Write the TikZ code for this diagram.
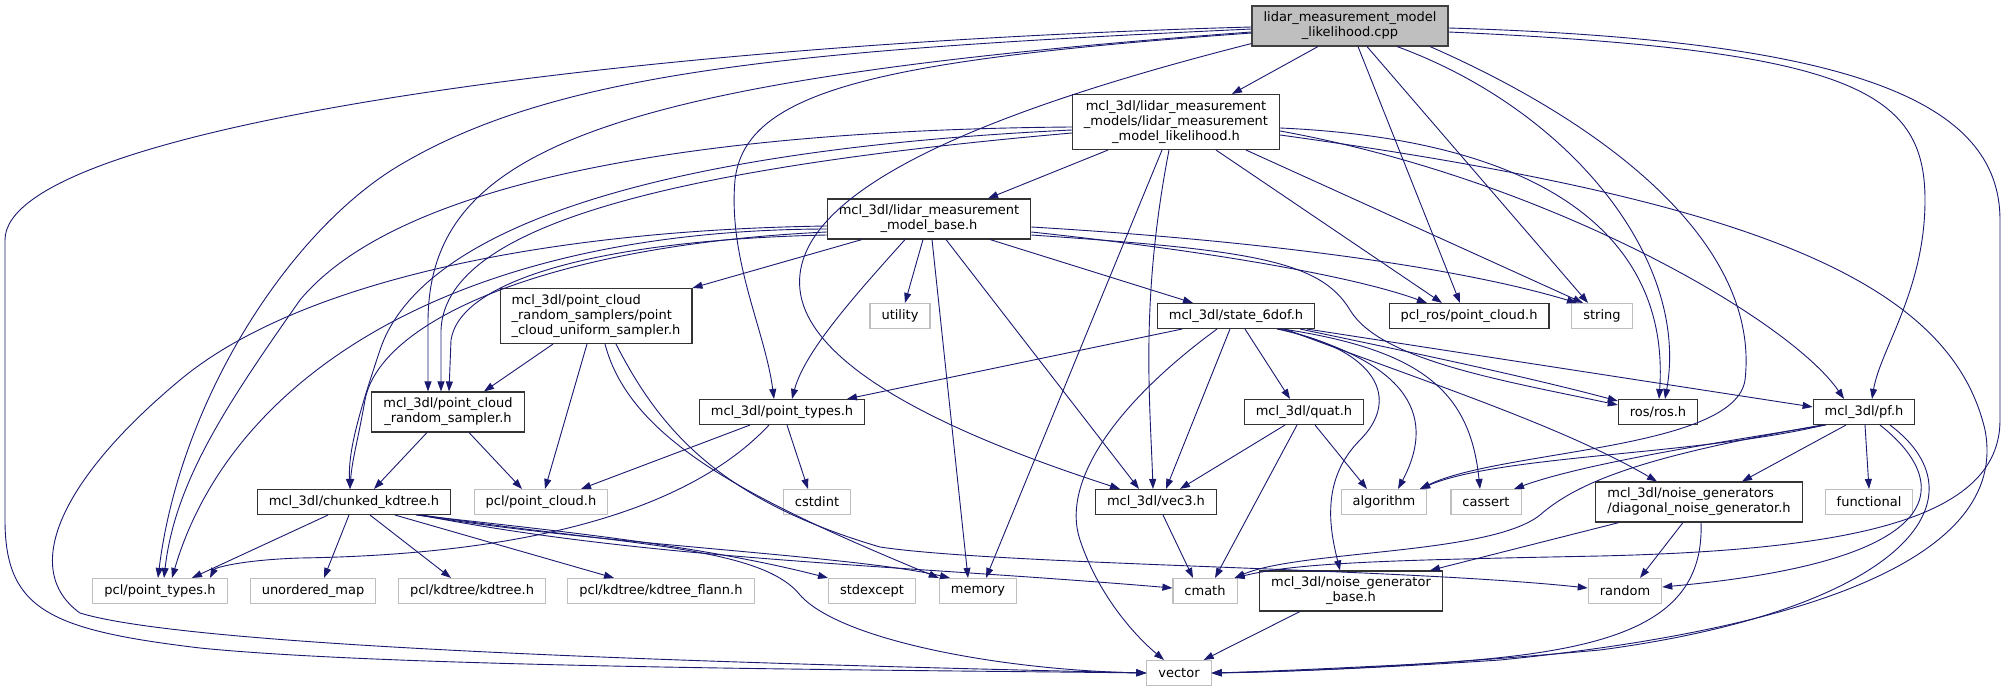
\documentclass[tikz,border=0pt]{standalone}
\usepackage{fontspec}
\setmainfont{DejaVu Sans}
\usetikzlibrary{arrows.meta}
\definecolor{edgeblue}{HTML}{191970}
\definecolor{rootgray}{HTML}{BFBFBF}
\tikzset{
	x=1pt, y=-1pt,
	file/.style={draw=black!80, fill=white, line width=1.1pt, inner xsep=11.5pt, inner ysep=0pt,
		minimum height=25pt, font=\fontsize{13pt}{15pt}\selectfont, align=center},
	sysfile/.style={file, draw=black!25},
	mainfile/.style={file, fill=rootgray, draw=black!75},
	twoline/.style={minimum height=40pt},
	threeline/.style={minimum height=55pt},
	dep/.style={-{Triangle[length=10pt,width=7pt]}, draw=edgeblue, line width=0.9pt}}

\begin{document}
\begin{tikzpicture}

	\useasboundingbox (0,0) rectangle (2005,692);

	\node[mainfile, twoline] (root) at (1350,26) {lidar\_measurement\_model\\\_likelihood.cpp};
	\node[file, threeline] (lmlh) at (1176,122) {mcl\_3dl/lidar\_measurement\\\_models/lidar\_measurement\\\_model\_likelihood.h};
	\node[file, twoline] (lmb) at (929,219) {mcl\_3dl/lidar\_measurement\\\_model\_base.h};
	\node[file, threeline, align=left] (pcus) at (596,316) {mcl\_3dl/point\_cloud\\\_random\_samplers/point\\\_cloud\_uniform\_sampler.h};
	\node[sysfile] (utility) at (900,316) {utility};
	\node[file] (state) at (1236,316) {mcl\_3dl/state\_6dof.h};
	\node[file] (pclros) at (1469,316) {pcl\_ros/point\_cloud.h};
	\node[sysfile] (string) at (1602,316) {string};
	\node[file, twoline] (pcrs) at (448,412) {mcl\_3dl/point\_cloud\\\_random\_sampler.h};
	\node[file] (ptypes) at (782,412) {mcl\_3dl/point\_types.h};
	\node[file] (quat) at (1304,412) {mcl\_3dl/quat.h};
	\node[file] (ros) at (1658,412) {ros/ros.h};
	\node[file] (pf) at (1864,412) {mcl\_3dl/pf.h};
	\node[file] (chunked) at (354,502) {mcl\_3dl/chunked\_kdtree.h};
	\node[sysfile] (pclpc) at (541,502) {pcl/point\_cloud.h};
	\node[sysfile] (cstdint) at (817,502) {cstdint};
	\node[file] (vec3) at (1156,502) {mcl\_3dl/vec3.h};
	\node[sysfile] (algorithm) at (1384,502) {algorithm};
	\node[sysfile] (cassert) at (1486,502) {cassert};
	\node[file, twoline, align=left] (dng) at (1699,502) {mcl\_3dl/noise\_generators\\/diagonal\_noise\_generator.h};
	\node[sysfile] (functional) at (1869,502) {functional};
	\node[sysfile] (pcltypes) at (160,591) {pcl/point\_types.h};
	\node[sysfile] (umap) at (313,591) {unordered\_map};
	\node[sysfile] (kdtree) at (472,591) {pcl/kdtree/kdtree.h};
	\node[sysfile] (flann) at (661,591) {pcl/kdtree/kdtree\_flann.h};
	\node[sysfile] (stdexcept) at (872,591) {stdexcept};
	\node[sysfile] (memory) at (978,591) {memory};
	\node[sysfile] (cmath) at (1205,591) {cmath};
	\node[file, twoline] (nbase) at (1351,591) {mcl\_3dl/noise\_generator\\\_base.h};
	\node[sysfile] (random) at (1625,591) {random};
	\node[sysfile] (vector) at (1179,673) {vector};

	\draw[dep] ([xshift=-32pt]root.south) -- ([xshift=56pt]lmlh.north);
	\draw[dep] ([yshift=-3pt]root.west) .. controls (800,50) and (560,70) .. (400,165) .. controls (290,230) and (180,400) .. ([xshift=-2pt]pcltypes.north);
	\draw[dep] ([yshift=-1pt]root.west) .. controls (600,45) and (5,130) .. (5,240) -- (5,520) .. controls (5,610) and (50,630) .. (200,648) .. controls (400,668) and (900,670) .. (vector.west);
	\draw[dep] ([yshift=-6pt]root.west) .. controls (600,80) and (430,150) .. (428,320) -- ([xshift=-20pt]pcrs.north);
	\draw[dep] ([yshift=-7pt]root.west) .. controls (880,60) and (745,90) .. (735,180) .. controls (728,260) and (765,330) .. ([xshift=-8pt]ptypes.north);
	\draw[dep] ([yshift=3pt]root.south west) .. controls (950,120) and (790,200) .. (800,290) .. controls (810,380) and (1000,450) .. ([xshift=-36pt]vec3.north);
	\draw[dep] ([xshift=8pt]root.south) -- ([xshift=-9pt]pclros.north);
	\draw[dep] ([xshift=17pt]root.south) -- ([xshift=-14pt]string.north);
	\draw[dep] ([xshift=47pt]root.south) .. controls (1570,110) and (1690,260) .. ([xshift=7pt]ros.north);
	\draw[dep] ([xshift=80pt]root.south) .. controls (1620,130) and (1760,250) .. (1745,380) .. controls (1735,450) and (1500,450) .. ([xshift=36pt]algorithm.north);
	\draw[dep] ([yshift=-6pt]root.east) .. controls (1850,50) and (1925,90) .. (1925,200) .. controls (1925,290) and (1880,350) .. ([xshift=8pt]pf.north);
	\draw[dep] ([yshift=-2pt]root.east) .. controls (1850,40) and (2000,100) .. (2000,220) -- (2000,420) .. controls (2000,520) and (1850,550) .. (1600,556) .. controls (1400,560) and (1300,562) .. ([xshift=-3pt]cmath.north east);

	\draw[dep] ([xshift=-68pt]lmlh.south) -- ([xshift=59pt]lmb.north);
	\draw[dep] ([yshift=-5pt]lmlh.west) .. controls (700,130) and (400,180) .. (300,300) .. controls (230,400) and (175,480) .. ([xshift=4pt]pcltypes.north);
	\draw[dep] ([yshift=-8pt]lmlh.west) .. controls (650,150) and (420,230) .. (380,350) .. controls (360,410) and (348,450) .. ([xshift=-4pt]chunked.north);
	\draw[dep] ([yshift=-11pt]lmlh.west) .. controls (650,170) and (445,230) .. (441,330) -- ([xshift=-7pt]pcrs.north);
	\draw[dep] ([xshift=-14pt]lmlh.south) -- ([xshift=8pt]memory.north);
	\draw[dep] ([xshift=-7pt]lmlh.south) .. controls (1140,300) and (1150,400) .. ([xshift=-3pt]vec3.north);
	\draw[dep] ([xshift=40pt]lmlh.south) -- ([xshift=-27pt]pclros.north);
	\draw[dep] ([xshift=70pt]lmlh.south) -- ([xshift=-19pt]string.north);
	\draw[dep] ([yshift=-6pt]lmlh.east) .. controls (1550,140) and (1670,240) .. ([xshift=1pt]ros.north);
	\draw[dep] ([yshift=-9pt]lmlh.east) .. controls (1550,180) and (1790,320) .. ([xshift=-20pt]pf.north);
	\draw[dep] ([yshift=-13pt]lmlh.east) .. controls (1750,200) and (1950,280) .. (1985,430) .. controls (2010,560) and (1800,630) .. (1500,660) .. controls (1350,670) and (1260,672) .. (vector.east);

	\draw[dep] ([yshift=-7pt]lmb.west) .. controls (550,230) and (300,280) .. (180,380) .. controls (60,480) and (20,570) .. (80,613) .. controls (200,650) and (800,665) .. (vector.west);
	\draw[dep] ([yshift=-10pt]lmb.west) .. controls (450,230) and (230,380) .. ([xshift=12pt]pcltypes.north);
	\draw[dep] ([yshift=-13pt]lmb.west) .. controls (550,245) and (380,320) .. (365,400) .. controls (358,440) and (352,460) .. ([xshift=-4pt]chunked.north);
	\draw[dep] ([yshift=-16pt]lmb.west) .. controls (600,240) and (460,280) .. (451,340) -- ([xshift=1pt]pcrs.north);
	\draw[dep] ([xshift=-67pt]lmb.south) -- (pcus.north east);
	\draw[dep] ([xshift=-24pt]lmb.south) .. controls (860,290) and (805,350) .. ([xshift=10pt]ptypes.north);
	\draw[dep] ([xshift=-6pt]lmb.south) -- ([xshift=5pt]utility.north);
	\draw[dep] ([xshift=3pt]lmb.south) -- ([xshift=-10pt]memory.north);
	\draw[dep] ([xshift=17pt]lmb.south) -- ([xshift=-17pt]vec3.north);
	\draw[dep] ([xshift=61pt]lmb.south) -- ([xshift=-43pt]state.north);
	\draw[dep] ([yshift=-8pt]lmb.east) .. controls (1250,240) and (1450,265) .. ([xshift=-25pt]string.north);
	\draw[dep] ([yshift=-13pt]lmb.east) .. controls (1200,250) and (1350,275) .. ([xshift=-42pt]pclros.north);
	\draw[dep] ([yshift=-16pt]lmb.east) .. controls (1250,250) and (1320,260) .. (1350,310) .. controls (1380,360) and (1500,380) .. ([yshift=-6pt]ros.north west);

	\draw[dep] ([xshift=-43pt]pcus.south) -- ([xshift=36pt]pcrs.north);
	\draw[dep] ([xshift=-9pt]pcus.south) -- ([xshift=4pt]pclpc.north);
	\draw[dep] ([xshift=9pt]pcus.south) .. controls (630,440) and (750,500) .. (memory.north west);
	\draw[dep] ([xshift=20pt]pcus.south) .. controls (660,430) and (720,500) .. (880,547) .. controls (1000,565) and (1400,568) .. ([yshift=3pt]random.west);

	\draw[dep] ([xshift=-54pt]state.south) -- ([xshift=65pt]ptypes.north);
	\draw[dep] ([xshift=-19pt]state.south) .. controls (1120,400) and (1060,480) .. (1080,540) .. controls (1100,600) and (1140,640) .. ([xshift=-15pt]vector.north);
	\draw[dep] ([xshift=-6pt]state.south) -- ([xshift=10pt]vec3.north);
	\draw[dep] ([xshift=9pt]state.south) -- ([xshift=-14pt]quat.north);
	\draw[dep] ([xshift=41pt]state.south) .. controls (1380,350) and (1400,400) .. (1360,440) .. controls (1320,480) and (1330,530) .. ([xshift=-11pt]nbase.north);
	\draw[dep] ([xshift=44pt]state.south) .. controls (1400,360) and (1440,410) .. ([xshift=14pt]algorithm.north);
	\draw[dep] ([xshift=47pt]state.south) .. controls (1420,350) and (1470,390) .. ([xshift=-6pt]cassert.north);
	\draw[dep] ([xshift=49pt]state.south) .. controls (1420,380) and (1560,425) .. ([xshift=-42pt]dng.north);
	\draw[dep] ([xshift=-15pt]state.south east) .. controls (1400,350) and (1520,375) .. ([yshift=-2pt]ros.north west);
	\draw[dep] ([xshift=-8pt]state.south east) -- ([yshift=-8pt]pf.north west);

	\draw[dep] ([xshift=-21pt]pcrs.south) -- ([xshift=20pt]chunked.north);
	\draw[dep] ([xshift=21pt]pcrs.south) -- ([xshift=-19pt]pclpc.north);

	\draw[dep] ([xshift=-32pt]ptypes.south) -- ([xshift=40pt]pclpc.north);
	\draw[dep] ([xshift=5pt]ptypes.south) -- ([xshift=-9pt]cstdint.north);
	\draw[dep] ([xshift=-13pt]ptypes.south) .. controls (680,520) and (500,555) .. (300,558) .. controls (240,560) and (215,568) .. ([xshift=50pt]pcltypes.north);

	\draw[dep] ([xshift=-19pt]quat.south) -- ([xshift=24pt]vec3.north);
	\draw[dep] ([xshift=-7pt]quat.south) -- ([xshift=10pt]cmath.north);
	\draw[dep] ([xshift=11pt]quat.south) -- ([xshift=-17pt]algorithm.north);

	\draw[dep] ([xshift=7pt]vec3.south) -- ([xshift=-12pt]cmath.north);

	\draw[dep] ([xshift=-26pt]chunked.south) -- ([xshift=32pt]pcltypes.north);
	\draw[dep] ([xshift=-5pt]chunked.south) -- ([xshift=11pt]umap.north);
	\draw[dep] ([xshift=16pt]chunked.south) -- ([xshift=-21pt]kdtree.north);
	\draw[dep] ([xshift=41pt]chunked.south) -- ([xshift=-47pt]flann.north);
	\draw[dep] ([xshift=-35pt]chunked.south east) .. controls (550,530) and (700,545) .. (stdexcept.north west);
	\draw[dep] ([xshift=-33pt]chunked.south east) .. controls (600,545) and (850,555) .. ([xshift=-28pt]memory.north);
	\draw[dep] ([xshift=-31pt]chunked.south east) .. controls (650,560) and (900,565) .. ([yshift=3pt]cmath.west);
	\draw[dep] ([xshift=-29pt]chunked.south east) .. controls (620,545) and (760,545) .. (800,595) .. controls (840,640) and (1000,670) .. (vector.west);

	\draw[dep] ([xshift=-18pt]pf.south) -- ([xshift=43pt]dng.north);
	\draw[dep] ([xshift=1pt]pf.south) -- (functional.north);
	\draw[dep] ([xshift=-38pt]pf.south) .. controls (1700,445) and (1580,465) .. ([xshift=28pt]cassert.north);
	\draw[dep] ([xshift=-40pt]pf.south) .. controls (1700,455) and (1500,455) .. ([xshift=36pt]algorithm.north);
	\draw[dep] ([xshift=-42pt]pf.south) .. controls (1650,455) and (1580,480) .. (1540,515) .. controls (1490,555) and (1300,550) .. ([xshift=-3pt]cmath.north east);
	\draw[dep] ([xshift=16pt]pf.south) .. controls (1950,480) and (1960,560) .. ([yshift=4pt]random.east);
	\draw[dep] ([xshift=26pt]pf.south) .. controls (1990,500) and (1900,610) .. (1600,650) .. controls (1400,668) and (1280,672) .. (vector.east);

	\draw[dep] ([xshift=-80pt]dng.south) -- ([xshift=79pt]nbase.north);
	\draw[dep] ([xshift=-16pt]dng.south) -- ([xshift=15pt]random.north);
	\draw[dep] ([xshift=2pt]dng.south) .. controls (1705,630) and (1600,655) .. (1400,665) .. controls (1300,670) and (1250,672) .. (vector.east);

	\draw[dep] ([xshift=-51pt]nbase.south) -- ([xshift=-8pt]vector.north east);

\end{tikzpicture}
\end{document}
